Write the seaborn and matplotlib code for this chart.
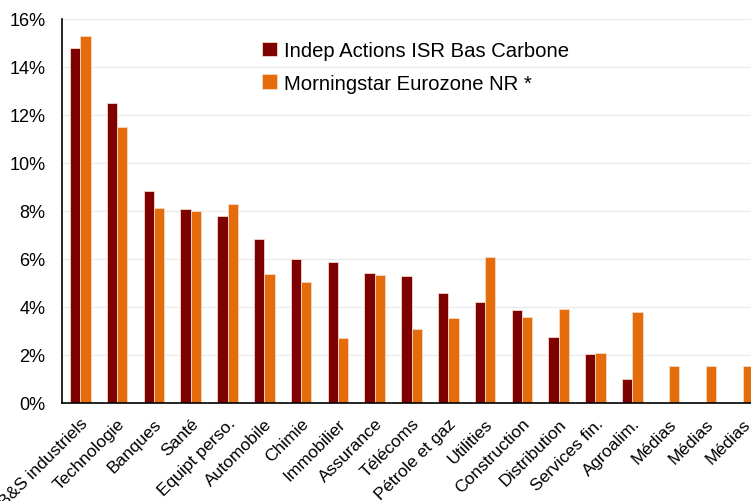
import matplotlib
matplotlib.use('Agg')
import matplotlib.pyplot as plt
import pandas as pd
import seaborn as sns

# Data
sectors = ['B&S industriels', 'Technologie', 'Banques', 'Santé', 'Equipt perso.',
           'Automobile', 'Chimie', 'Immobilier', 'Assurance', 'Télécoms',
           'Pétrole et gaz', 'Utilities', 'Construction', 'Distribution',
           'Services fin.', 'Agroalim.', 'Médias', 'Médias', 'Médias']
fund = [14.78, 12.49, 8.83, 8.10, 7.79, 6.83, 6.01, 5.88, 5.42, 5.30,
        4.60, 4.21, 3.87, 2.76, 2.03, 1.02, 0.0, 0.0, 0.0]
index_ = [15.30, 11.49, 8.14, 7.99, 8.28, 5.36, 5.05, 2.70, 5.34, 3.07,
          3.53, 6.09, 3.58, 3.93, 2.08, 3.81, 1.55, 1.55, 1.55]
series_names = ['Indep Actions ISR Bas Carbone', 'Morningstar Eurozone NR *']
colors = ['#7F0000', '#E46C0A']

# long format, x is the position so duplicate names stay separate
pos = list(range(len(sectors)))
df = pd.DataFrame({
    'pos': pos + pos,
    'value': fund + index_,
    'serie': [series_names[0]] * len(pos) + [series_names[1]] * len(pos),
})

sns.set_style('white')
plt.rcParams['font.family'] = ['Liberation Sans', 'DejaVu Sans']
plt.rcParams['text.color'] = 'black'
plt.rcParams['xtick.labelcolor'] = 'black'
plt.rcParams['ytick.labelcolor'] = 'black'

fig = plt.figure(figsize=(7.51, 5.02), dpi=100)
ax = fig.add_axes([62 / 751, 1 - 404 / 502, 699 / 751, 384 / 502])

sns.barplot(data=df, x='pos', y='value', hue='serie', hue_order=series_names,
            palette=colors, saturation=1, width=0.56, gap=0, ax=ax,
            edgecolor='#F2D9C8', linewidth=0.6, legend=True)

ax.set_ylim(0, 16)
ax.set_xlim(-0.5, len(sectors) - 0.5)
ax.set_yticks(range(0, 17, 2))
ax.set_yticklabels([f'{v}%' for v in range(0, 17, 2)], fontsize=13)
ax.yaxis.grid(True, color='#EBEBEB', linewidth=1)
ax.set_axisbelow(True)

ax.set_xticks(pos)
ax.set_xticklabels(sectors, rotation=45, ha='right', rotation_mode='anchor', fontsize=12.5)
ax.set_xticks([p - 0.5 for p in pos] + [len(pos) - 0.5], minor=True)
ax.tick_params(axis='x', which='major', length=0, pad=9, labelcolor='black')
ax.tick_params(axis='x', which='minor', length=4, color='#A0A0A0', width=1)
ax.tick_params(axis='y', length=4, color='#A0A0A0', width=1, pad=8, labelcolor='black')

ax.set_xlabel('')
ax.set_ylabel('')
for s in ['top', 'right']:
    ax.spines[s].set_visible(False)
ax.spines['left'].set_color('black')
ax.spines['bottom'].set_color('black')
ax.spines['left'].set_linewidth(1.2)
ax.spines['bottom'].set_linewidth(1.2)

handles, labels = ax.get_legend_handles_labels()
leg = ax.legend(handles, labels, loc='upper left', bbox_to_anchor=(262 / 751, 1 - 42 / 502),
                bbox_transform=fig.transFigure, frameon=False, fontsize=14.6,
                handlelength=0.75, handleheight=0.75, handletextpad=0.35,
                labelspacing=0.68, borderpad=0, borderaxespad=0)
for t in leg.get_texts():
    t.set_color('black')

fig.savefig('out.png', dpi=100)
